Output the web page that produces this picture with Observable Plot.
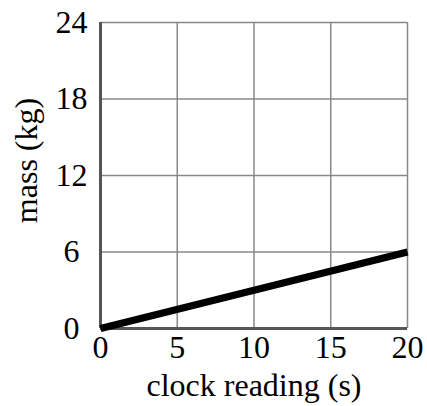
<!DOCTYPE html>
<html>
<head>
<meta charset="utf-8">
<script src="https://cdn.jsdelivr.net/npm/d3@7"></script>
<script src="https://cdn.jsdelivr.net/npm/@observablehq/plot@0.6"></script>
<style>
  html, body { margin: 0; padding: 0; background: white; }
</style>
</head>
<body>
<div id="chart"></div>
<script>
const clockReading = [0, 20];
const mass = [0, 6];
const xTicks = [0, 5, 10, 15, 20];
const yTicks = [0, 6, 12, 18, 24];
const xLabel = "clock reading (s)";
const yLabel = "mass (kg)";

const data = clockReading.map((x, i) => ({x, y: mass[i]}));
const font = "'Liberation Serif', 'Times New Roman', serif";

const chart = Plot.plot({
  width: 427,
  height: 406,
  marginLeft: 100,
  marginRight: 20,
  marginTop: 22,
  marginBottom: 78,
  style: {fontFamily: font, fontSize: "32px", background: "white", color: "black"},
  x: {domain: [0, 20]},
  y: {domain: [0, 24]},
  marks: [
    Plot.gridX(xTicks, {stroke: "#888", strokeOpacity: 1, strokeWidth: 1.5}),
    Plot.gridY(yTicks, {stroke: "#888", strokeOpacity: 1, strokeWidth: 1.5}),
    Plot.ruleX([0], {stroke: "#555", strokeWidth: 3}),
    Plot.ruleY([0], {stroke: "#555", strokeWidth: 3}),
    Plot.line(data, {x: "x", y: "y", stroke: "black", strokeWidth: 7, strokeLinecap: "butt"}),
    Plot.axisX(xTicks, {tickSize: 0, tickPadding: 7, fontSize: 32, label: null, fill: "black"}),
    Plot.axisY(yTicks, {tickSize: 0, tickPadding: 29, textAnchor: "middle", fontSize: 32, label: null, fill: "black"}),
    Plot.text([xLabel], {frameAnchor: "bottom", lineAnchor: "bottom", textAnchor: "middle", dy: 67, fontSize: 32, fill: "black"}),
    Plot.text([yLabel], {frameAnchor: "left", lineAnchor: "bottom", textAnchor: "middle", rotate: -90, dx: -64, dy: -15, fontSize: 32, fill: "black"})
  ]
});
document.getElementById("chart").appendChild(chart);
</script>
</body>
</html>
